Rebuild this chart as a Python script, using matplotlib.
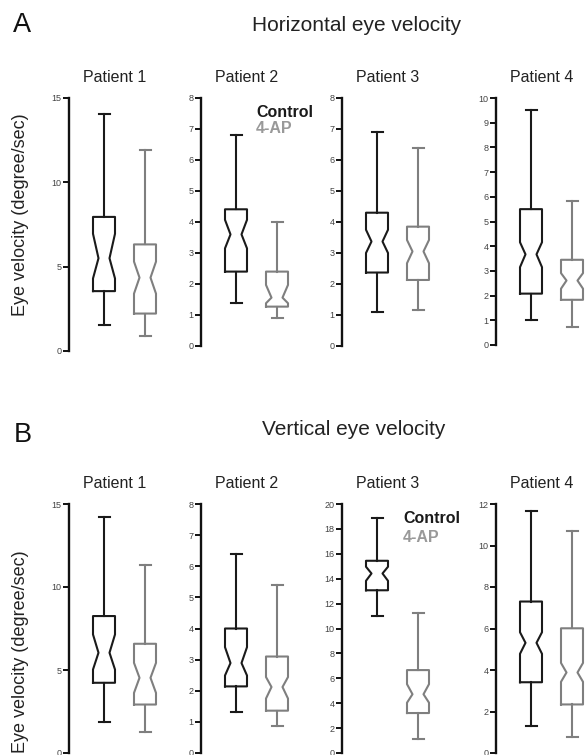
import numpy as np
import matplotlib.pyplot as plt

plt.rcParams['font.family'] = ['Liberation Sans', 'DejaVu Sans']

W, H = 586, 755

patients = ['Patient 1', 'Patient 2', 'Patient 3', 'Patient 4']
groups = ['Control', '4-AP']
colors = ['#1a1a1a', '#7f7f7f']

# each box: [whislo, q1, cilo, med, cihi, q3, whishi]
# A - horizontal eye velocity
h_p1_ctrl = [1.55, 3.55, 4.3, 5.5, 6.95, 7.95, 14.05]
h_p1_4ap = [0.9, 2.22, 3.4, 4.35, 5.3, 6.32, 11.92]
h_p2_ctrl = [1.38, 2.4, 3.15, 3.6, 4.07, 4.41, 6.8]
h_p2_4ap = [0.9, 1.27, 1.38, 1.56, 1.97, 2.4, 4.0]
h_p3_ctrl = [1.09, 2.37, 3.0, 3.37, 3.75, 4.3, 6.89]
h_p3_4ap = [1.16, 2.13, 2.67, 3.05, 3.42, 3.85, 6.4]
h_p4_ctrl = [1.02, 2.08, 3.15, 3.67, 4.16, 5.5, 9.51]
h_p4_4ap = [0.73, 1.83, 2.28, 2.61, 2.91, 3.45, 5.85]

# B - vertical eye velocity
v_p1_ctrl = [1.85, 4.23, 5.03, 6.04, 7.14, 8.25, 14.19]
v_p1_4ap = [1.25, 2.92, 3.62, 4.53, 5.43, 6.58, 11.3]
v_p2_ctrl = [1.32, 2.14, 2.49, 2.89, 3.4, 4.0, 6.38]
v_p2_4ap = [0.86, 1.36, 1.75, 2.12, 2.44, 3.1, 5.39]
v_p3_ctrl = [11.0, 13.07, 13.83, 14.42, 14.96, 15.44, 18.87]
v_p3_4ap = [1.13, 3.21, 4.04, 4.72, 5.53, 6.66, 11.24]
v_p4_ctrl = [1.32, 3.41, 4.78, 5.31, 5.82, 7.3, 11.67]
v_p4_4ap = [0.75, 2.34, 3.43, 3.88, 4.34, 6.01, 10.69]

h_ymax = [15, 8, 8, 10]
h_ystep = [5, 1, 1, 1]
v_ymax = [15, 8, 20, 12]
v_ystep = [5, 1, 2, 2]

h_boxes = [(h_p1_ctrl, h_p1_4ap), (h_p2_ctrl, h_p2_4ap),
           (h_p3_ctrl, h_p3_4ap), (h_p4_ctrl, h_p4_4ap)]
v_boxes = [(v_p1_ctrl, v_p1_4ap), (v_p2_ctrl, v_p2_4ap),
           (v_p3_ctrl, v_p3_4ap), (v_p4_ctrl, v_p4_4ap)]

# layout in pixels
spine_x = [69, 201, 342, 496]
ax_w = 100
px_per_unit = 41.0
x0 = 1 - 35 / px_per_unit


def to_stats(b):
    return dict(whislo=b[0], q1=b[1], cilo=b[2], med=b[3], cihi=b[4],
                q3=b[5], whishi=b[6], fliers=[])


def make_axes(fig, left, top, bottom):
    return fig.add_axes([left / W, 1 - bottom / H, ax_w / W, (bottom - top) / H])


def draw_panel(ax, boxes, ymax, ystep, title):
    stats = [to_stats(b) for b in boxes]
    art = ax.bxp(stats, positions=[1, 2], widths=22 / px_per_unit,
                 shownotches=True, showfliers=False,
                 medianprops=dict(linewidth=0))
    for i, c in enumerate(colors):
        art['boxes'][i].set(color=c, linewidth=1.5, clip_on=False)
        for ln in art['whiskers'][2 * i:2 * i + 2] + art['caps'][2 * i:2 * i + 2]:
            ln.set(color=c, linewidth=1.5, clip_on=False)
    ax.set_xlim(x0, x0 + ax_w / px_per_unit)
    ax.set_ylim(0, ymax)
    ax.set_yticks(np.arange(0, ymax + 0.01, ystep))
    ax.set_xticks([])
    for s in ['top', 'right', 'bottom']:
        ax.spines[s].set_visible(False)
    ax.spines['left'].set_linewidth(1.7)
    ax.spines['left'].set_color('#111111')
    ax.tick_params(axis='y', length=4, width=1.4, pad=1.5, labelsize=6.5,
                   labelcolor='#444444', color='#111111')
    ax.patch.set_visible(False)
    ax.text(0.46, 1.0 + 16 / (ax.bbox.height), title, transform=ax.transAxes,
            ha='center', va='baseline', fontsize=11.5, color='#222222')


fig = plt.figure(figsize=(W / 100, H / 100), dpi=100)

# row A
a_bottoms = [351, 346, 346, 345]
for i in range(4):
    ax = make_axes(fig, spine_x[i], 98, a_bottoms[i])
    draw_panel(ax, h_boxes[i], h_ymax[i], h_ystep[i], patients[i])

# row B
for i in range(4):
    ax = make_axes(fig, spine_x[i], 504, 753)
    draw_panel(ax, v_boxes[i], v_ymax[i], v_ystep[i], patients[i])

fig.text(13 / W, 1 - 32 / H, 'A', fontsize=19.5, va='baseline', ha='left', color='#111111')
fig.text(14 / W, 1 - 442 / H, 'B', fontsize=19.5, va='baseline', ha='left', color='#111111')
fig.text(357 / W, 1 - 31 / H, 'Horizontal eye velocity', fontsize=15,
         ha='center', va='baseline', color='#222222')
fig.text(354 / W, 1 - 435 / H, 'Vertical eye velocity', fontsize=15,
         ha='center', va='baseline', color='#222222')

for top in [113, 550]:
    fig.text(21 / W, 1 - top / H, 'Eye velocity (degree/sec)', rotation=90,
             fontsize=13, ha='center', va='top', color='#222222')

# legends
fig.text(256 / W, 1 - 117 / H, groups[0], fontsize=11.5, fontweight='bold',
         color=colors[0], va='baseline')
fig.text(256 / W, 1 - 133 / H, groups[1], fontsize=11.5, fontweight='bold',
         color='#999999', va='baseline')
fig.text(403 / W, 1 - 523 / H, groups[0], fontsize=11.5, fontweight='bold',
         color=colors[0], va='baseline')
fig.text(403 / W, 1 - 542 / H, groups[1], fontsize=11.5, fontweight='bold',
         color='#999999', va='baseline')

fig.savefig('out.png', dpi=100)
